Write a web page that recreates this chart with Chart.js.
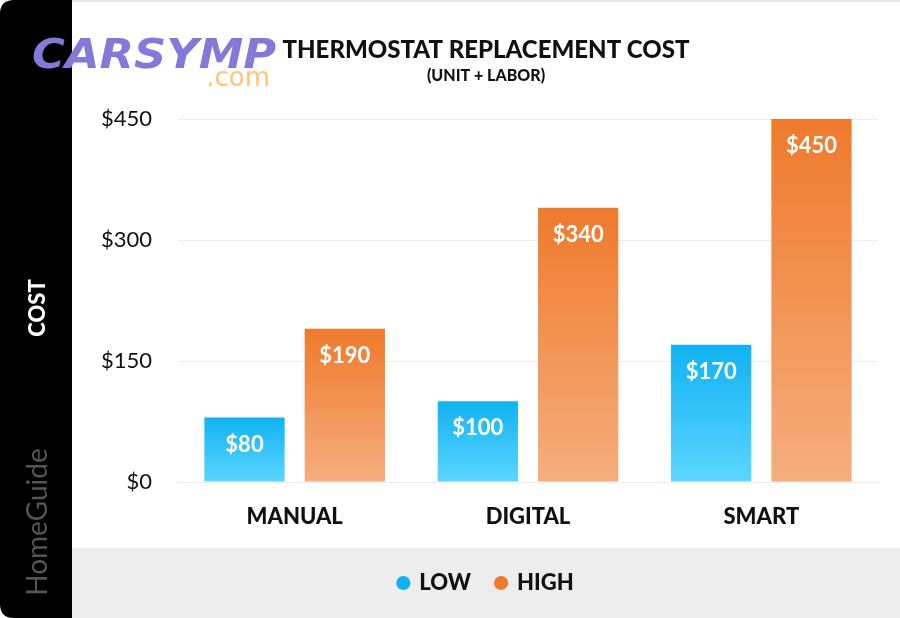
<!DOCTYPE html>
<html>
<head>
<meta charset="utf-8">
<title>Thermostat Replacement Cost</title>
<script src="https://cdn.jsdelivr.net/npm/chart.js@4/dist/chart.umd.min.js"></script>
<style>
  html, body { margin: 0; padding: 0; background: #ffffff; }
  #wrap { width: 900px; height: 618px; position: relative; }
</style>
</head>
<body>
<div id="wrap"><canvas id="chart"></canvas></div>
<script>
// chart data
var categories = ['MANUAL', 'DIGITAL', 'SMART'];
var lowCosts = [80, 100, 170];
var highCosts = [190, 340, 450];
var seriesNames = ['LOW', 'HIGH'];
var yTicks = [0, 150, 300, 450];

var blueTop = '#10b2f2', blueBottom = '#5cd6ff';
var orangeTop = '#ef7a2c', orangeBottom = '#f5ae7e';

function barGradient(topColor, bottomColor) {
    return function(ctx) {
        var chart = ctx.chart;
        if (!chart.chartArea || ctx.raw === undefined) {
            return topColor;
        }
        var y = chart.scales.y;
        var top = y.getPixelForValue(ctx.raw);
        var bottom = y.getPixelForValue(0);
        var g = chart.ctx.createLinearGradient(0, top, 0, bottom);
        g.addColorStop(0, topColor);
        g.addColorStop(1, bottomColor);
        return g;
    };
}

// background panels, side texts and logo
var framePlugin = {
    id: 'frame',
    beforeDraw(chart) {
        var c = chart.ctx;
        c.save();
        c.fillStyle = '#ffffff';
        c.fillRect(0, 0, chart.width, chart.height);
        c.fillStyle = '#ededed';
        c.fillRect(72, 548, chart.width - 72, chart.height - 548);
        c.fillStyle = '#e6e6e6';
        c.fillRect(72, 0, chart.width - 72, 2);
        // black strip
        c.fillStyle = '#000000';
        c.beginPath();
        c.moveTo(72, 0);
        c.lineTo(14, 0);
        c.quadraticCurveTo(0, 0, 0, 14);
        c.lineTo(0, chart.height - 14);
        c.quadraticCurveTo(0, chart.height, 14, chart.height);
        c.lineTo(72, chart.height);
        c.closePath();
        c.fill();
        // y axis title
        c.translate(38, 308);
        c.rotate(-Math.PI / 2);
        c.fillStyle = '#ffffff';
        c.font = '900 22px Lato';
        c.textAlign = 'center';
        c.textBaseline = 'middle';
        c.fillText('COST', 0, 0);
        c.restore();
        c.save();
        c.translate(38, 522);
        c.rotate(-Math.PI / 2);
        c.fillStyle = '#555555';
        c.font = '28px Lato';
        c.textAlign = 'center';
        c.textBaseline = 'middle';
        c.fillText('HomeGuide', 0, 0);
        c.restore();
    },
    afterDraw(chart) {
        var c = chart.ctx;
        c.save();
        c.translate(32, 68);
        c.scale(1.12, 1);
        c.fillStyle = '#8478d8';
        c.font = 'italic 900 40px "DejaVu Sans"';
        c.textBaseline = 'alphabetic';
        c.fillText('CARSYMP', 0, 0);
        c.restore();
        c.save();
        c.fillStyle = '#ffc47a';
        c.font = '26px "DejaVu Sans"';
        c.textAlign = 'right';
        c.fillText('.com', 270, 79);
        c.restore();
    }
};

// value labels inside the bars
var valueLabels = {
    id: 'valueLabels',
    afterDatasetsDraw(chart) {
        var c = chart.ctx;
        c.save();
        c.fillStyle = '#ffffff';
        c.font = 'bold 22px Lato';
        c.textAlign = 'center';
        c.textBaseline = 'middle';
        chart.data.datasets.forEach(function(ds, i) {
            var meta = chart.getDatasetMeta(i);
            meta.data.forEach(function(bar, j) {
                c.fillText('$' + ds.data[j], bar.x, bar.y + 27);
            });
        });
        c.restore();
    }
};

const ctx = document.getElementById('chart');

var myChart = new Chart(ctx, {
    type: 'bar',
    data: {
        labels: categories,
        datasets: [
            {
                label: seriesNames[0],
                data: lowCosts,
                backgroundColor: barGradient(blueTop, blueBottom),
                borderWidth: 0
            },
            {
                label: seriesNames[1],
                data: highCosts,
                backgroundColor: barGradient(orangeTop, orangeBottom),
                borderWidth: 0
            }
        ]
    },
    options: {
        responsive: true,
        maintainAspectRatio: false,
        animation: false,
        categoryPercentage: 0.86,
        barPercentage: 0.8,
        layout: {
            padding: { top: 36, left: 72, right: 0, bottom: 14 }
        },
        scales: {
            x: {
                grid: { display: false, drawTicks: false },
                border: { display: false },
                ticks: {
                    color: '#111111',
                    font: { family: 'Lato', size: 22, weight: '900' },
                    padding: 22
                },
                afterFit(scale) { scale.height = 65; }
            },
            y: {
                min: 0,
                max: 450,
                afterBuildTicks(scale) {
                    scale.ticks = yTicks.map(v => ({ value: v }));
                },
                grid: { color: '#ececec', lineWidth: 1, drawTicks: false },
                border: { display: false },
                ticks: {
                    color: '#111111',
                    font: { family: 'Lato', size: 22 },
                    padding: 26,
                    callback: v => '$' + v
                },
                afterFit(scale) { scale.width = 106; }
            },
            yRight: {
                position: 'right',
                grid: { display: false, drawTicks: false },
                border: { display: false },
                ticks: { display: false },
                afterFit(scale) { scale.width = 22; }
            }
        },
        plugins: {
            title: {
                display: true,
                text: 'THERMOSTAT REPLACEMENT COST',
                color: '#111111',
                font: { family: 'Lato', size: 24, weight: '900' },
                padding: { top: 0, bottom: 1 }
            },
            subtitle: {
                display: true,
                text: '(UNIT + LABOR)',
                color: '#111111',
                font: { family: 'Lato', size: 16, weight: '900' },
                padding: { top: 0, bottom: 34 }
            },
            legend: {
                position: 'bottom',
                labels: {
                    usePointStyle: true,
                    pointStyle: 'circle',
                    boxWidth: 10,
                    boxHeight: 10,
                    padding: 25,
                    color: '#111111',
                    font: { family: 'Lato', size: 22, weight: '900' },
                    generateLabels(chart) {
                        var items = Chart.defaults.plugins.legend.labels.generateLabels(chart);
                        var cols = [blueTop, orangeTop];
                        items.forEach(function(it, i) {
                            it.fillStyle = cols[i];
                            it.strokeStyle = cols[i];
                            it.lineWidth = 0;
                        });
                        return items;
                    }
                }
            },
            tooltip: { enabled: false }
        }
    },
    plugins: [framePlugin, valueLabels]
});
</script>
</body>
</html>
